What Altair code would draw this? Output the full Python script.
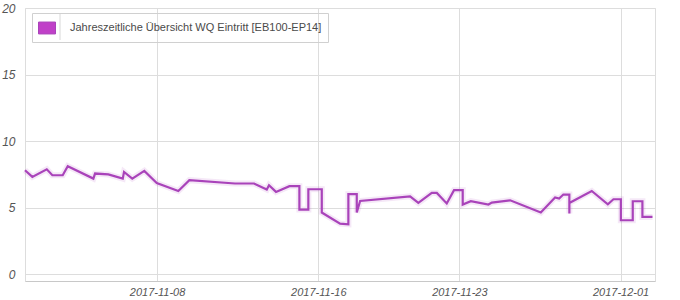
import altair as alt
import pandas as pd

series_name = "Jahreszeitliche Übersicht WQ Eintritt [EB100-EP14]"

times = [
    "2017-11-01T10:45", "2017-11-01T19:30", "2017-11-02T12:40", "2017-11-02T19:20",
    "2017-11-03T07:40", "2017-11-03T13:40", "2017-11-04T20:10", "2017-11-04T22:10",
    "2017-11-05T14:00", "2017-11-06T07:10", "2017-11-06T08:40", "2017-11-06T18:30",
    "2017-11-07T08:50", "2017-11-07T23:40", "2017-11-09T01:20", "2017-11-09T14:30",
    "2017-11-11T20:50", "2017-11-12T19:30", "2017-11-13T10:40", "2017-11-13T13:20",
    "2017-11-13T21:40", "2017-11-14T13:40", "2017-11-15T01:30", "2017-11-15T01:31",
    "2017-11-15T12:10", "2017-11-15T12:11", "2017-11-16T04:10", "2017-11-16T04:11",
    "2017-11-17T02:00", "2017-11-17T11:50", "2017-11-17T11:51", "2017-11-17T21:50",
    "2017-11-17T21:51", "2017-11-18T01:50", "2017-11-20T13:20", "2017-11-20T23:10",
    "2017-11-21T15:10", "2017-11-21T21:10", "2017-11-22T09:00", "2017-11-22T17:40",
    "2017-11-23T04:00", "2017-11-23T04:01", "2017-11-23T13:40", "2017-11-24T10:40",
    "2017-11-24T14:40", "2017-11-25T12:30", "2017-11-27T01:00", "2017-11-27T18:00",
    "2017-11-27T22:50", "2017-11-28T03:50", "2017-11-28T11:00", "2017-11-28T11:01",
    "2017-11-28T11:02", "2017-11-29T13:40", "2017-11-30T08:50", "2017-11-30T15:30",
    "2017-12-01T00:20", "2017-12-01T00:21", "2017-12-01T14:30", "2017-12-01T14:31",
    "2017-12-02T02:00", "2017-12-02T02:01", "2017-12-02T14:00",
]
values = [
    7.82, 7.32, 7.89, 7.44,
    7.44, 8.12, 7.19, 7.57,
    7.50, 7.19, 7.69, 7.19,
    7.77, 6.86, 6.26, 7.07,
    6.82, 6.82, 6.37, 6.69,
    6.19, 6.62, 6.62, 4.86,
    4.86, 6.39, 6.39, 4.64,
    3.81, 3.76, 6.02, 6.02,
    4.64, 5.51, 5.86, 5.36,
    6.11, 6.11, 5.32, 6.32,
    6.32, 5.24, 5.49, 5.24,
    5.39, 5.56, 4.64, 5.77,
    5.69, 5.99, 5.99, 4.56,
    5.36, 6.26, 5.26, 5.64,
    5.64, 4.06, 4.06, 5.49,
    5.49, 4.31, 4.31,
]
y_ticks = [0, 5, 10, 15, 20]
x_ticks = [(2017, 11, 8), (2017, 11, 16), (2017, 11, 23), (2017, 12, 1)]

df = pd.DataFrame({"t": times, "v": values, "i": list(range(len(values))), "s": series_name})

line_color = "#a943ba"
font = "Liberation Sans"
text_color = "#555555"

x_enc = alt.X(
    "t:T",
    scale=alt.Scale(domain=[alt.DateTime(year=2017, month=11, date=1, hours=10, minutes=45),
                            alt.DateTime(year=2017, month=12, date=2, hours=17, minutes=0)]),
    axis=alt.Axis(
        title=None, values=[alt.DateTime(year=a, month=b, date=c) for a, b, c in x_ticks],
        format="%Y-%m-%d", labelFont=font, labelFontSize=11, labelFontStyle="italic",
        labelColor=text_color, ticks=False, labelPadding=5, domainColor="#c8c8c8",
        gridColor="#dddddd", labelFlush=False,
    ),
)
y_enc = alt.Y(
    "v:Q",
    scale=alt.Scale(domain=[-0.5, 20], nice=False, zero=False),
    axis=alt.Axis(
        title=None, values=y_ticks, labelFont=font, labelFontSize=12, labelFontStyle="italic",
        labelColor=text_color, ticks=False, domain=False, labelPadding=10,
        gridColor="#dddddd", labelFlush=False,
    ),
)

base = alt.Chart(df)

shadow = base.mark_line(strokeWidth=6, opacity=0.12, color=line_color, interpolate="linear").encode(
    x=x_enc, y=y_enc, order="i:Q"
)

line = base.mark_line(strokeWidth=2.2, interpolate="linear").encode(
    x=x_enc, y=y_enc, order="i:Q",
    color=alt.Color(
        "s:N",
        scale=alt.Scale(range=[line_color]),
        legend=alt.Legend(
            title=None, orient="none", legendX=7, legendY=5,
            strokeColor="#d0d0d0", fillColor="transparent", padding=6,
            symbolType="M-1,-0.7H1V0.7H-1Z", symbolSize=289,
            symbolFillColor="#c040c8", symbolStrokeColor="#cccccc", symbolStrokeWidth=1,
            labelFont=font, labelFontSize=11, labelColor="#4a4a4a", labelOffset=14,
            labelLimit=400,
        ),
    ),
)

sep = alt.Chart(pd.DataFrame({"k": [0]})).mark_rule(color="#d8d8d8", strokeWidth=1).encode(
    x=alt.value(35), y=alt.value(5), y2=alt.value(32)
)

chart = alt.layer(shadow, line, sep).properties(
    width=630, height=273,
    autosize=alt.AutoSizeParams(type="none"),
    padding={"left": 25, "top": 8, "right": 25, "bottom": 19},
).configure_view(stroke="#cccccc").configure(background="white")

chart.save("out.html", embed_options={"renderer": "svg", "actions": False})
